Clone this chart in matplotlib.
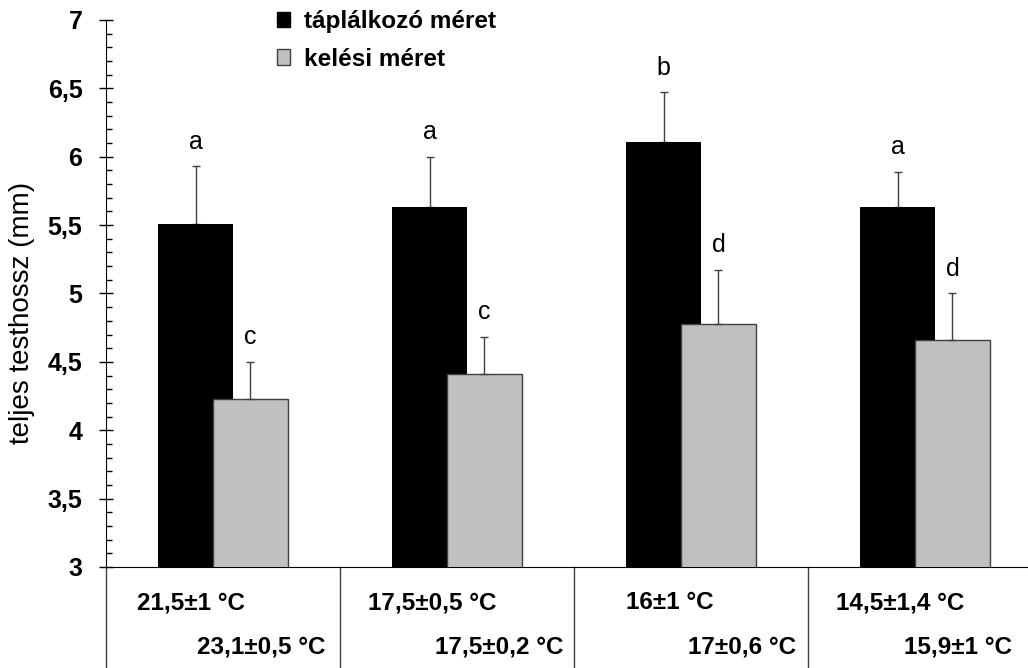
import matplotlib.pyplot as plt
import matplotlib.transforms as mtransforms
from matplotlib.patches import Patch
from matplotlib.ticker import MultipleLocator, FuncFormatter
import numpy as np

plt.rcParams['font.family'] = ['Liberation Sans', 'DejaVu Sans']

# data
series_names = ['táplálkozó méret', 'kelési méret']
feeding_size = [5.51, 5.63, 6.11, 5.63]
feeding_err = [0.42, 0.37, 0.36, 0.26]
hatching_size = [4.23, 4.41, 4.78, 4.66]
hatching_err = [0.27, 0.27, 0.39, 0.34]
feeding_letters = ['a', 'a', 'b', 'a']
hatching_letters = ['c', 'c', 'd', 'd']
feeding_temps = ['21,5±1 °C', '17,5±0,5 °C', '16±1 °C', '14,5±1,4 °C']
hatching_temps = ['23,1±0,5 °C', '17,5±0,2 °C', '17±0,6 °C', '15,9±1 °C']

# layout tweaks for the label rows under the axis
row1_dx = [-0.137, -0.107, -0.090, -0.107]
row2_dx = [0.162, 0.179, 0.216, 0.139]

fig = plt.figure(figsize=(10.28, 6.68), dpi=100)
ax = fig.add_axes([106 / 1028, 1 - 567 / 668, 1 - 106 / 1028, (567 - 20) / 668])

x = np.arange(len(feeding_size))
width = 0.32
off = 0.117

ax.bar(x - off, feeding_size, width, color='black', edgecolor='none', zorder=2)
ax.bar(x + off, hatching_size, width, color='#C0C0C0', edgecolor='#404040',
       linewidth=1, zorder=3)

ax.errorbar(x - off, feeding_size, yerr=[np.zeros(4), feeding_err], fmt='none',
            ecolor='#404040', elinewidth=1, capsize=3, capthick=1, zorder=1)
ax.errorbar(x + off, hatching_size, yerr=[np.zeros(4), hatching_err], fmt='none',
            ecolor='#404040', elinewidth=1, capsize=3, capthick=1, zorder=4)

for i in range(len(x)):
    ax.text(x[i] - off, feeding_size[i] + feeding_err[i] + 0.13, feeding_letters[i],
            ha='center', va='baseline', fontsize=18)
    ax.text(x[i] + off, hatching_size[i] + hatching_err[i] + 0.13, hatching_letters[i],
            ha='center', va='baseline', fontsize=18)

ax.set_ylim(3, 7)
ax.set_xlim(-0.5, 3.44)
ax.set_xticks([])
ax.yaxis.set_major_locator(MultipleLocator(0.5))
ax.yaxis.set_minor_locator(MultipleLocator(0.1))
ax.yaxis.set_major_formatter(FuncFormatter(lambda v, p: f'{v:g}'.replace('.', ',')))
ax.tick_params(axis='y', which='major', direction='inout', length=10, width=1,
               pad=12, labelsize=18)
ax.tick_params(axis='y', which='minor', direction='in', length=4.3, width=1)
for lab in ax.get_yticklabels():
    lab.set_fontweight('bold')

for s in ['top', 'right']:
    ax.spines[s].set_visible(False)
ax.spines['left'].set_color('black')
ax.spines['bottom'].set_color('black')

# table-like area below the axis
trans = mtransforms.blended_transform_factory(ax.transData, ax.transAxes)
for xb in [-0.5, 0.5, 1.5, 2.5]:
    ax.plot([xb, xb], [0, -0.2], transform=trans, color='#404040', lw=1, clip_on=False)

for i in range(len(x)):
    ax.text(x[i] + row1_dx[i], -0.0658, feeding_temps[i], transform=trans,
            ha='center', va='center', fontsize=17.5, fontweight='bold')
    ax.text(x[i] + row2_dx[i], -0.146, hatching_temps[i], transform=trans,
            ha='center', va='center', fontsize=17.5, fontweight='bold')

fig.text(22 / 1028, 1 - 313 / 668, 'teljes testhossz (mm)', rotation=90,
         ha='center', va='center', fontsize=20)

handles = [Patch(facecolor='black', edgecolor='black'),
           Patch(facecolor='#C0C0C0', edgecolor='#404040')]
fig.legend(handles, series_names, loc='upper left', bbox_to_anchor=(277 / 1028, 1 - 10 / 668),
           frameon=False, prop={'weight': 'bold', 'size': 17.5}, handlelength=0.55,
           handleheight=0.6, handletextpad=0.55, labelspacing=0.6, borderpad=0,
           borderaxespad=0)

fig.savefig('out.png', dpi=100)
